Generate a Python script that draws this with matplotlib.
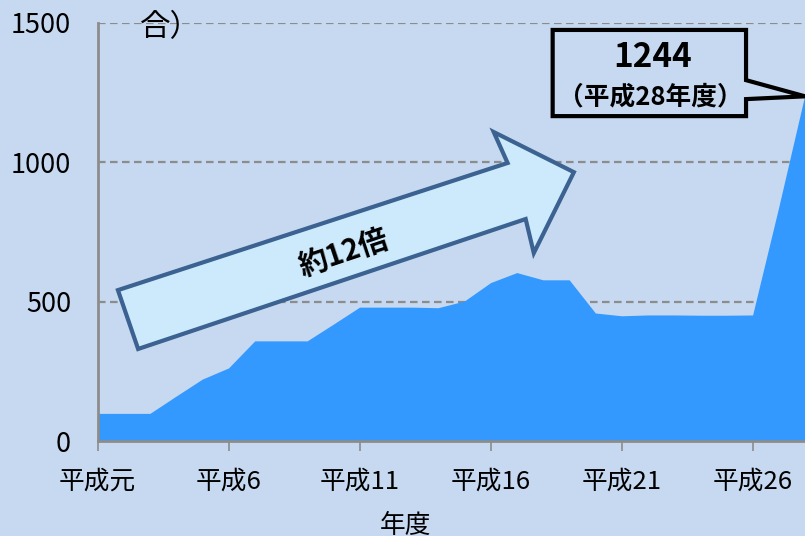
import matplotlib
matplotlib.use("Agg")
import matplotlib.pyplot as plt
from matplotlib.patches import Polygon

plt.rcParams['font.family'] = ['Noto Sans CJK JP', 'DejaVu Sans']

# 平成元年度〜平成28年度
years = list(range(1, 29))
counts = [99, 99, 99, 161, 222, 262, 359, 359, 359, 419,
          480, 480, 480, 478, 502, 568, 604, 578, 578, 459,
          449, 452, 452, 451, 451, 452, 840, 1244]
tick_years = [1, 6, 11, 16, 21, 26]
tick_labels = ['平成元', '平成6', '平成11', '平成16', '平成21', '平成26']
y_ticks = [0, 500, 1000, 1500]

bg = '#c6d9f0'
area_col = '#3399ff'
axis_gray = '#8c8c8c'

fig = plt.figure(figsize=(8.05, 5.36), dpi=100, facecolor=bg)
ax = fig.add_axes([97.5 / 805, 95 / 536, 707.5 / 805, 418.3 / 536])
ax.set_facecolor(bg)

ax.fill_between(years, counts, 0, color=area_col, lw=0, zorder=2)

ax.set_xlim(1, 28)
ax.set_ylim(0, 1500)
ax.set_xticks(tick_years)
ax.set_xticklabels(tick_labels, fontsize=18.5)
ax.set_yticks(y_ticks)
ax.set_yticklabels([str(v) for v in y_ticks], fontsize=19.5)

ax.set_axisbelow(True)
ax.yaxis.grid(True, color=axis_gray, lw=1.6, ls=(0, (3.4, 2)))
for s in ['top', 'right']:
    ax.spines[s].set_visible(False)
for s in ['left', 'bottom']:
    ax.spines[s].set_color(axis_gray)
    ax.spines[s].set_linewidth(2.0)
    ax.spines[s].set_zorder(3)
ax.tick_params(axis='y', length=0, pad=19)
ax.tick_params(axis='x', length=7, width=1.2, color=axis_gray, pad=13)

# big arrow "約12倍"
arrow_pts = [(2.55, 330), (1.78, 541), (16.65, 997), (16.12, 1108),
             (19.18, 964), (17.65, 674), (17.34, 796)]
ax.add_patch(Polygon(arrow_pts, closed=True, fc='#cceafc', ec='#3b6290',
                     lw=3, joinstyle='miter', zorder=4))
ax.text(10.38, 674, '約12倍', fontsize=21, fontweight='bold', rotation=18.5,
        ha='center', va='center', zorder=5)

# callout for H28
callout = [(18.37, 1474), (25.75, 1474), (25.75, 1294), (28.0, 1236),
           (25.75, 1226), (25.75, 1165), (18.37, 1165)]
ax.add_patch(Polygon(callout, closed=True, fc=bg, ec='black', lw=3,
                     joinstyle='miter', zorder=4, clip_on=False))
ax.text(22.2, 1375, '1244', fontsize=24, fontweight='bold',
        ha='center', va='center', zorder=5)
ax.text(22.1, 1233, '（平成28年度）', fontsize=18.5, fontweight='bold',
        ha='center', va='center', zorder=5)

ax.text(3.8, 1484, '合）', fontsize=22, ha='center', va='center', zorder=5)
fig.text(406 / 805, 1 - 526 / 536, '年度', fontsize=18.5, ha='center', va='center')

fig.savefig('out.png', dpi=100, facecolor=bg)
